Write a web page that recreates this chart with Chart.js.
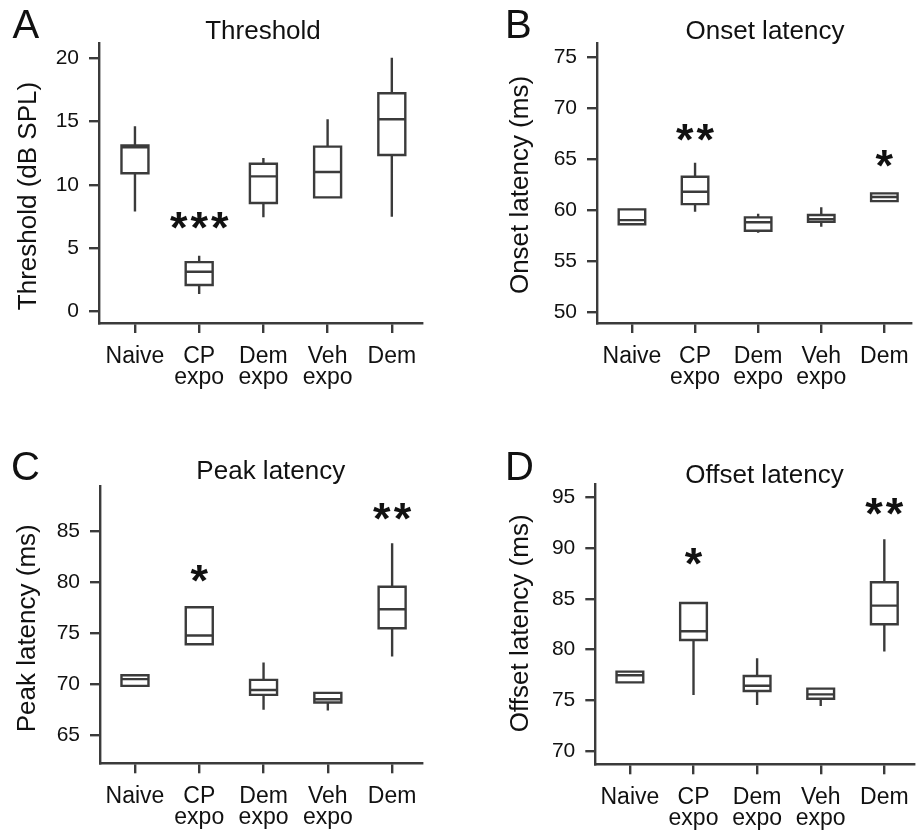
<!DOCTYPE html>
<html><head><meta charset="utf-8">
<script src="https://cdn.jsdelivr.net/npm/chart.js@4/dist/chart.umd.min.js"></script>
<style>
html,body{margin:0;padding:0;background:#fff;}
#wrap{position:relative;width:922px;height:832px;overflow:hidden;background:#fff;}
#wrap canvas{position:absolute;}
</style></head><body>
<div id="wrap">
<canvas id="cA" width="461" height="400" style="left:0px;top:0px"></canvas>
<canvas id="cB" width="461" height="400" style="left:461px;top:0px"></canvas>
<canvas id="cC" width="461" height="432" style="left:0px;top:400px"></canvas>
<canvas id="cD" width="461" height="432" style="left:461px;top:400px"></canvas>
</div>
<script>
// ---- categories ----
const categories = [["Naive"], ["CP", "expo"], ["Dem", "expo"], ["Veh", "expo"], ["Dem"]];

// ---- A: Threshold (dB SPL) ----
const thrMin = [7.9, 1.4, 7.43, 9.0, 7.48];
const thrQ1  = [10.9, 2.1, 8.56, 9.0, 12.34];
const thrMed = [12.95, 3.15, 10.66, 11.0, 15.15];
const thrQ3  = [13.1, 3.9, 11.65, 13.0, 17.2];
const thrMax = [14.6, 4.4, 12.1, 15.15, 20.0];
const thrStarCats = [1];
const thrStarVals = [7.2];
const thrStarText = ["***"];

// ---- B: Onset latency (ms) ----
const onMin = [58.6, 59.82, 57.76, 58.35, 60.87];
const onQ1  = [58.6, 60.58, 57.96, 58.84, 60.87];
const onMed = [59.0, 61.79, 58.8, 59.1, 61.27];
const onQ3  = [60.06, 63.26, 59.27, 59.5, 61.63];
const onMax = [60.06, 64.64, 59.63, 60.26, 61.63];
const onStarCats = [1, 4];
const onStarVals = [67.6, 65.1];
const onStarText = ["**", "*"];

// ---- C: Peak latency (ms) ----
const pkMin = [69.82, 73.92, 67.46, 67.39, 72.7];
const pkQ1  = [69.82, 73.92, 68.93, 68.18, 75.49];
const pkMed = [70.48, 74.77, 69.42, 68.51, 77.36];
const pkQ3  = [70.87, 77.56, 70.41, 69.13, 79.58];
const pkMax = [70.87, 77.56, 72.11, 69.13, 83.85];
const pkStarCats = [1, 4];
const pkStarVals = [80.83, 87.0];
const pkStarText = ["*", "**"];

// ---- D: Offset latency (ms) ----
const ofMin = [76.78, 75.54, 74.55, 74.45, 79.8];
const ofQ1  = [76.78, 80.94, 75.93, 75.17, 82.49];
const ofMed = [77.47, 81.8, 76.45, 75.6, 84.32];
const ofQ3  = [77.83, 84.58, 77.4, 76.16, 86.62];
const ofMax = [77.83, 84.58, 79.14, 76.16, 90.85];
const ofStarCats = [1, 4];
const ofStarVals = [89.2, 94.1];
const ofStarText = ["*", "**"];

// ---- tick labels ----
const thrTickStep = 5, onTickStep = 5, pkTickStep = 5, ofTickStep = 5;

const FONT = '"Liberation Sans", Arial, Helvetica, sans-serif';
const LINE = '#3b3b3b';
const TEXT = '#111111';
const LW = 2.4;
const HALF = 0.21;

function boxData(mins, q1, med, q3, maxs) {
  const box = [], meds = [], wh = [];
  for (let i = 0; i < q1.length; i++) {
    box.push({x: i, y: q1[i]}, {x: i + HALF, y: q1[i]}, {x: i + HALF, y: q3[i]},
             {x: i - HALF, y: q3[i]}, {x: i - HALF, y: q1[i]}, {x: i, y: q1[i]}, {x: i, y: null});
    meds.push({x: i - HALF, y: med[i]}, {x: i + HALF, y: med[i]}, {x: i, y: null});
    if (maxs[i] > q3[i]) wh.push({x: i, y: q3[i]}, {x: i, y: maxs[i]}, {x: i, y: null});
    if (mins[i] < q1[i]) wh.push({x: i, y: mins[i]}, {x: i, y: q1[i]}, {x: i, y: null});
  }
  const common = {showLine: true, spanGaps: false, borderColor: LINE, borderWidth: LW,
    pointRadius: 0, pointHoverRadius: 0, tension: 0, fill: false};
  return [
    Object.assign({label: 'box', data: box, borderJoinStyle: 'miter', borderCapStyle: 'butt'}, common),
    Object.assign({label: 'median', data: meds, borderCapStyle: 'butt'}, common),
    Object.assign({label: 'whisker', data: wh, borderCapStyle: 'butt'}, common)
  ];
}

const decor = {
  id: 'decor',
  afterDraw(chart, args, o) {
    const ctx = chart.ctx;
    ctx.save();
    ctx.fillStyle = TEXT;
    // panel letter
    ctx.font = '40px ' + FONT;
    ctx.textAlign = 'left'; ctx.textBaseline = 'alphabetic';
    ctx.fillText(o.letter, o.letterX, o.letterY);
    // title
    ctx.font = '26px ' + FONT;
    ctx.textAlign = 'center';
    ctx.fillText(o.title, o.titleX, o.titleY);
    // y-axis title
    ctx.save();
    ctx.translate(o.yTitleX, o.yTitleY);
    ctx.rotate(-Math.PI / 2);
    ctx.textAlign = 'center'; ctx.textBaseline = 'middle';
    ctx.fillText(o.yTitle, 0, 0);
    ctx.restore();
    // significance stars
    ctx.font = 'bold 45px ' + FONT;
    if ('letterSpacing' in ctx) ctx.letterSpacing = '3px';
    ctx.textAlign = 'center'; ctx.textBaseline = 'alphabetic';
    const xs = chart.scales.x, ys = chart.scales.y;
    o.starCats.forEach((c, k) => {
      const t = o.starText[k];
      const m = ctx.measureText(t);
      const px = xs.getPixelForValue(c) + 1.5;
      const pc = ys.getPixelForValue(o.starVals[k]);
      const base = pc + (m.actualBoundingBoxAscent - m.actualBoundingBoxDescent) / 2;
      ctx.fillText(t, px, base);
    });
    ctx.restore();
  }
};

function makeChart(id, W, H, area, xr, yr, step, datasets, deco) {
  new Chart(document.getElementById(id), {
    type: 'scatter',
    data: {datasets: datasets},
    options: {
      responsive: false, animation: false, devicePixelRatio: 1,
      layout: {padding: {left: 0, top: area.top, right: W - area.right, bottom: 0}},
      plugins: {legend: {display: false}, tooltip: {enabled: false}, decor: deco},
      events: [],
      scales: {
        x: {
          type: 'linear', position: 'bottom', min: xr[0], max: xr[1],
          afterFit: s => { s.height = H - area.bottom; },
          grid: {display: true, drawOnChartArea: false, drawTicks: true, tickLength: 10, color: LINE, lineWidth: LW},
          border: {display: true, color: LINE, width: LW},
          ticks: {stepSize: 1, includeBounds: false, autoSkip: false, maxRotation: 0, minRotation: 0,
            padding: 13, color: TEXT, font: {family: FONT, size: 23, lineHeight: '21px'},
            callback: v => categories[Math.round(v)] || ''}
        },
        y: {
          type: 'linear', position: 'left', min: yr[0], max: yr[1],
          afterFit: s => { s.width = area.left; },
          grid: {display: true, drawOnChartArea: false, drawTicks: true, tickLength: 10, color: LINE, lineWidth: LW},
          border: {display: true, color: LINE, width: LW},
          ticks: {stepSize: step, includeBounds: false, padding: 10, color: TEXT, font: {family: FONT, size: 21}}
        }
      }
    },
    plugins: [decor]
  });
}

makeChart('cA', 461, 400, {left: 99, top: 43, right: 422, bottom: 323}, [-0.56, 4.47], [-0.89, 21.16], thrTickStep,
  boxData(thrMin, thrQ1, thrMed, thrQ3, thrMax),
  {letter: 'A', letterX: 12.5, letterY: 38, title: 'Threshold', titleX: 263, titleY: 39.3,
   yTitle: 'Threshold (dB SPL)', yTitleX: 29, yTitleY: 196,
   starCats: thrStarCats, starVals: thrStarVals, starText: thrStarText});

makeChart('cB', 461, 400, {left: 136, top: 43, right: 456.7, bottom: 323}, [-0.554, 4.425], [48.9, 76.4], onTickStep,
  boxData(onMin, onQ1, onMed, onQ3, onMax),
  {letter: 'B', letterX: 44, letterY: 38.3, title: 'Onset latency', titleX: 304, titleY: 39.3,
   yTitle: 'Onset latency (ms)', yTitleX: 60, yTitleY: 185,
   starCats: onStarCats, starVals: onStarVals, starText: onStarText});

makeChart('cC', 461, 432, {left: 100, top: 86, right: 421.7, bottom: 363.3}, [-0.544, 4.46], [62.2, 89.49], pkTickStep,
  boxData(pkMin, pkQ1, pkMed, pkQ3, pkMax),
  {letter: 'C', letterX: 11, letterY: 80, title: 'Peak latency', titleX: 270.8, titleY: 79.3,
   yTitle: 'Peak latency (ms)', yTitleX: 28, yTitleY: 228.3,
   starCats: pkStarCats, starVals: pkStarVals, starText: pkStarText});

makeChart('cD', 461, 432, {left: 134.3, top: 84, right: 456.7, bottom: 364.3}, [-0.544, 4.466], [68.72, 96.28], ofTickStep,
  boxData(ofMin, ofQ1, ofMed, ofQ3, ofMax),
  {letter: 'D', letterX: 44, letterY: 80, title: 'Offset latency', titleX: 303.5, titleY: 83.3,
   yTitle: 'Offset latency (ms)', yTitleX: 59.5, yTitleY: 223.3,
   starCats: ofStarCats, starVals: ofStarVals, starText: ofStarText});
</script>
</body></html>
